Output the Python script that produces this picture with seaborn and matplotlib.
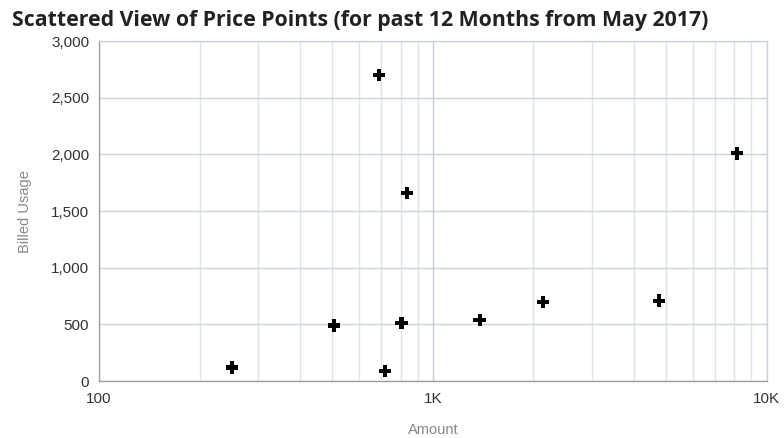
import matplotlib
matplotlib.use("Agg")
import matplotlib.pyplot as plt
import matplotlib.ticker as mticker
import numpy as np
import pandas as pd
import seaborn as sns

# Price points: amount (log scale) vs. billed usage
amount = [250, 505, 690, 720, 805, 835, 1380, 2140, 4750, 8150]
billed_usage = [120, 490, 2700, 90, 510, 1660, 540, 700, 710, 2010]

x_ticks = [100, 1000, 10000]
x_tick_labels = ["100", "1K", "10K"]
y_ticks = [0, 500, 1000, 1500, 2000, 2500, 3000]

df = pd.DataFrame({"Amount": amount, "Billed Usage": billed_usage})

sns.set_style("white")
plt.rcParams["font.family"] = ["Liberation Sans", "DejaVu Sans"]

fig = plt.figure(figsize=(7.84, 4.38), dpi=100)
ax = fig.add_axes([0.1263, 0.130, 0.8517, 0.776])

sns.scatterplot(data=df, x="Amount", y="Billed Usage", ax=ax, marker="P",
                s=80, color="black", edgecolor="none", zorder=5)

ax.set_xscale("log")
ax.set_xlim(100, 10000)
ax.set_ylim(0, 3000)

ax.xaxis.set_major_locator(mticker.FixedLocator(x_ticks))
ax.xaxis.set_major_formatter(mticker.FixedFormatter(x_tick_labels))
ax.xaxis.set_minor_locator(mticker.LogLocator(base=10, subs=np.arange(2, 10)))
ax.xaxis.set_minor_formatter(mticker.NullFormatter())
ax.set_yticks(y_ticks)
ax.yaxis.set_major_formatter(mticker.FuncFormatter(lambda v, p: f"{int(v):,}"))

ax.grid(which="major", axis="x", color="#c5ced8", linewidth=1.0)
ax.grid(which="minor", axis="x", color="#dfe3ea", linewidth=1.0)
ax.grid(which="major", axis="y", color="#ccd5de", linewidth=1.0)
ax.set_axisbelow(True)

ax.spines["top"].set_color("#ccd5de")
ax.spines["right"].set_color("#ccd5de")
ax.spines["left"].set_color("#a0a0a0")
ax.spines["bottom"].set_color("#a0a0a0")
for s in ax.spines.values():
    s.set_linewidth(1.0)

ax.tick_params(axis="x", which="minor", length=4, color="#dfe3ea", width=1)
ax.tick_params(axis="x", which="major", length=0, pad=8, labelsize=11, labelcolor="#333333")
ax.tick_params(axis="y", which="major", length=0, pad=7, labelsize=11, labelcolor="#333333")

ax.set_xlabel("Amount", color="#888888", fontsize=10.5, labelpad=12)
ax.set_ylabel("Billed Usage", color="#888888", fontsize=10.5, labelpad=14)

fig.text(0.015, 0.953, "Scattered View of Price Points (for past 12 Months from May 2017)",
         fontsize=15.3, fontweight="bold", color="#222222", va="center", ha="left",
         family=["Open Sans", "DejaVu Sans"])

fig.savefig("out.png", dpi=100)
